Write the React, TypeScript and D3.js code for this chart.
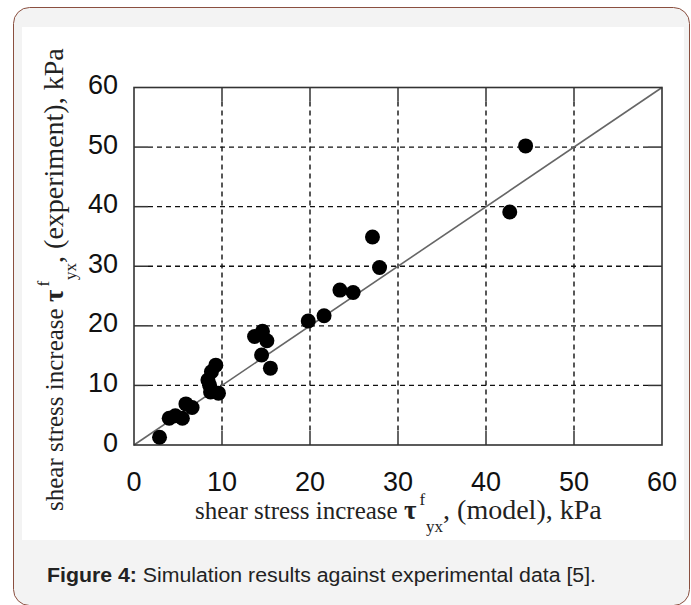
import React from 'react';
import * as d3 from 'd3';

// model (x) vs experiment (y), kPa
const modelX = [2.9, 4.0, 4.7, 5.5, 5.9, 6.6, 8.4, 8.8, 9.3, 8.7, 9.6, 8.6, 13.7, 14.6, 15.1, 14.5, 15.5, 19.8, 21.6, 23.4, 24.9, 27.1, 27.9, 42.7, 44.5];
const experimentY = [1.3, 4.5, 4.9, 4.5, 6.9, 6.3, 10.9, 12.3, 13.4, 8.9, 8.7, 10.0, 18.2, 19.1, 17.5, 15.1, 12.9, 20.8, 21.7, 26.0, 25.6, 34.9, 29.8, 39.1, 50.2];
const ticks = [0, 10, 20, 30, 40, 50, 60];

const W = 691;
const H = 605;
const plot = { left: 134, right: 662, top: 87.5, bottom: 445 };

const serif = "'Liberation Serif', 'Times New Roman', serif";

function AxisTitle({ tag }: { tag: string }) {
  return (
    <>
      <tspan fontSize={25}>shear stress increase </tspan>
      <tspan fontWeight="bold" fontSize={27}>τ</tspan>
      <tspan fontSize={17} dx={3} dy={-14}>f</tspan>
      <tspan fontSize={17} dx={1} dy={27}>yx</tspan>
      <tspan fontSize={28} dy={-13}>, ({tag}), kPa</tspan>
    </>
  );
}

export default function App() {
  const x = d3.scaleLinear().domain([0, 60]).range([plot.left, plot.right]);
  const y = d3.scaleLinear().domain([0, 60]).range([plot.bottom, plot.top]);
  const tl = 14; // inward tick length
  const inner = ticks.slice(1, -1);
  const line = d3.line<number>().x((d) => x(d)).y((d) => y(d));

  return (
    <div>
      <style>{`body{margin:0}`}</style>
      <svg width={W} height={H} style={{ display: 'block' }}>
        <rect x={13.5} y={7.5} width={676} height={598} rx={16} fill="#f3f3f3" stroke="#8a4f3f" strokeWidth={1} />
        <rect x={22} y={27} width={662} height={513} fill="#fff" />

        {/* grid */}
        <g stroke="#111" strokeWidth={1.4} strokeDasharray="5,4" fill="none">
          {inner.map((t) => (
            <line key={'gx' + t} x1={x(t)} x2={x(t)} y1={plot.top + tl} y2={plot.bottom - tl} />
          ))}
          {inner.map((t) => (
            <line key={'gy' + t} y1={y(t)} y2={y(t)} x1={plot.left + tl} x2={plot.right - tl} />
          ))}
        </g>
        {/* ticks */}
        <g stroke="#333" strokeWidth={1.5}>
          {inner.map((t) => (
            <g key={'t' + t}>
              <line x1={x(t)} x2={x(t)} y1={plot.bottom} y2={plot.bottom - tl} />
              <line x1={x(t)} x2={x(t)} y1={plot.top} y2={plot.top + tl} />
              <line y1={y(t)} y2={y(t)} x1={plot.left} x2={plot.left + tl} />
              <line y1={y(t)} y2={y(t)} x1={plot.right} x2={plot.right - tl} />
            </g>
          ))}
        </g>
        <path d={line([0, 60]) || ''} stroke="#666" strokeWidth={1.6} fill="none" />
        <rect x={plot.left} y={plot.top} width={plot.right - plot.left} height={plot.bottom - plot.top} fill="none" stroke="#333" strokeWidth={1.6} />

        {modelX.map((m, i) => (
          <circle key={i} cx={x(m)} cy={y(experimentY[i])} r={7.5} fill="#000" />
        ))}

        {/* tick labels */}
        <g fontFamily="'Liberation Sans', Arial, sans-serif" fontSize={27} fill="#111">
          {ticks.map((t) => (
            <text key={'xl' + t} x={x(t)} y={491} textAnchor="middle">{t}</text>
          ))}
          {ticks.map((t) => (
            <text key={'yl' + t} x={118} y={y(t) + 6.5} textAnchor="end">{t}</text>
          ))}
        </g>

        {/* axis titles */}
        <text x={195} y={519} fontFamily={serif} fill="#222">
          <AxisTitle tag="model" />
        </text>
        <text transform="translate(63,511) rotate(-90)" fontFamily={serif} fill="#222">
          <AxisTitle tag="experiment" />
        </text>

        {/* caption */}
        <text x={47} y={582} fontFamily="'Liberation Sans', Arial, sans-serif" fontSize={20} fill="#222" textLength={549} lengthAdjust="spacingAndGlyphs">
          <tspan fontWeight="bold">Figure 4:</tspan> Simulation results against experimental data [5].
        </text>
      </svg>
    </div>
  );
}
